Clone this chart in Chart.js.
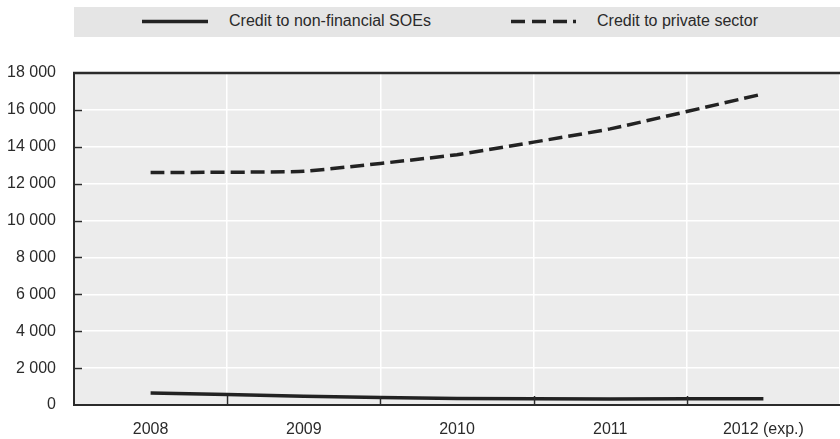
<!DOCTYPE html>
<html>
<head>
<meta charset="utf-8">
<script src="https://cdn.jsdelivr.net/npm/chart.js@4.4.1/dist/chart.umd.min.js"></script>
<style>
  html, body { margin: 0; padding: 0; background: #fff; }
  #wrap { position: relative; width: 840px; height: 439px; }
  #legend {
    position: absolute; left: 74px; top: 7px; width: 766px; height: 30px;
    background: #e5e5e5; font-family: "Liberation Sans", Arial, sans-serif;
    font-size: 16px; color: #2a2a2a;
  }
  #legend span { position: absolute; top: 5px; white-space: nowrap; }
  #legend svg { position: absolute; top: 0; }
</style>
</head>
<body>
<div id="wrap">
  <canvas id="grafico" width="840" height="439"></canvas>
  <div id="legend">
    <svg style="left:68px" width="68" height="30"><line x1="0" y1="14.5" x2="66" y2="14.5" stroke="#222" stroke-width="3.5"/></svg>
    <span style="left:155px">Credit to non-financial SOEs</span>
    <svg style="left:437px" width="68" height="30"><line x1="0" y1="14.5" x2="65" y2="14.5" stroke="#222" stroke-width="3.5" stroke-dasharray="14 7 14 7 14 6 3 100"/></svg>
    <span style="left:523px">Credit to private sector</span>
  </div>
</div>
<script>
// Datos del grafico
const anios = ["2008", "2009", "2010", "2011", "2012 (exp.)"];
const creditoSOE = [650, 480, 350, 330, 340];
const creditoPrivado = [12600, 12670, 13570, 14970, 16870];
const ticksY = [0, 2000, 4000, 6000, 8000, 10000, 12000, 14000, 16000, 18000];

const fuente = { family: "'Liberation Sans', Arial, sans-serif", size: 16 };
const oscuro = "#2b2b2b";

// Fondo gris, borde superior y marcas hacia adentro
const marcoPlugin = {
  id: "marco",
  beforeDraw(chart) {
    const { ctx, chartArea: a } = chart;
    ctx.save();
    ctx.fillStyle = "#ececec";
    ctx.fillRect(a.left, a.top, a.right - a.left, a.bottom - a.top);
    ctx.restore();
  },
  afterDatasetsDraw(chart) {
    const { ctx, chartArea: a, scales } = chart;
    ctx.save();
    ctx.strokeStyle = oscuro;
    ctx.lineWidth = 1.5;
    ctx.beginPath();
    scales.y.ticks.forEach((t, i) => {
      if (t.value === 0 || t.value === 18000) return;
      const y = Math.round(scales.y.getPixelForTick(i)) + 0.5;
      ctx.moveTo(a.left, y);
      ctx.lineTo(a.left + 8, y);
    });
    for (let i = 1; i < anios.length; i++) {
      const x = Math.round((scales.x.getPixelForValue(i - 1) + scales.x.getPixelForValue(i)) / 2) + 0.5;
      ctx.moveTo(x, a.bottom);
      ctx.lineTo(x, a.bottom - 9);
    }
    ctx.stroke();
    ctx.lineWidth = 2.5;
    ctx.beginPath();
    ctx.moveTo(a.left - 1, a.top);
    ctx.lineTo(a.right, a.top);
    ctx.stroke();
    ctx.restore();
  }
};

const ctx = document.getElementById("grafico").getContext("2d");
const grafico = new Chart(ctx, {
  type: "line",
  data: {
    labels: anios,
    datasets: [
      {
        label: "Credit to non-financial SOEs",
        data: creditoSOE,
        borderColor: "#222",
        borderWidth: 3.5,
        pointRadius: 0,
        fill: false,
        tension: 0.2,
      },
      {
        label: "Credit to private sector",
        data: creditoPrivado,
        borderColor: "#222",
        borderWidth: 3.5,
        borderDash: [14, 6],
        pointRadius: 0,
        fill: false,
        tension: 0.1,
      },
    ],
  },
  options: {
    responsive: false,
    animation: false,
    layout: { padding: { top: 73, right: 0, left: 0, bottom: 0 } },
    plugins: {
      legend: { display: false },
      tooltip: { enabled: false },
    },
    scales: {
      x: {
        offset: true,
        grid: { offset: true, color: "#ffffff", lineWidth: 1.5, drawTicks: false },
        border: { color: oscuro, width: 2 },
        ticks: { font: fuente, color: oscuro, padding: 15 },
        afterFit(scale) { scale.height = 34; },
      },
      y: {
        min: 0,
        max: 18000,
        afterBuildTicks(scale) { scale.ticks = ticksY.map(v => ({ value: v })); },
        grid: { color: "#ffffff", lineWidth: 1.5, drawTicks: false },
        border: { color: oscuro, width: 2 },
        ticks: {
          font: fuente,
          color: oscuro,
          padding: 18,
          callback: v => v.toLocaleString("en-US").replace(/,/g, " "),
        },
        afterFit(scale) { scale.width = 74; },
      },
    },
  },
  plugins: [marcoPlugin],
});
</script>
</body>
</html>
